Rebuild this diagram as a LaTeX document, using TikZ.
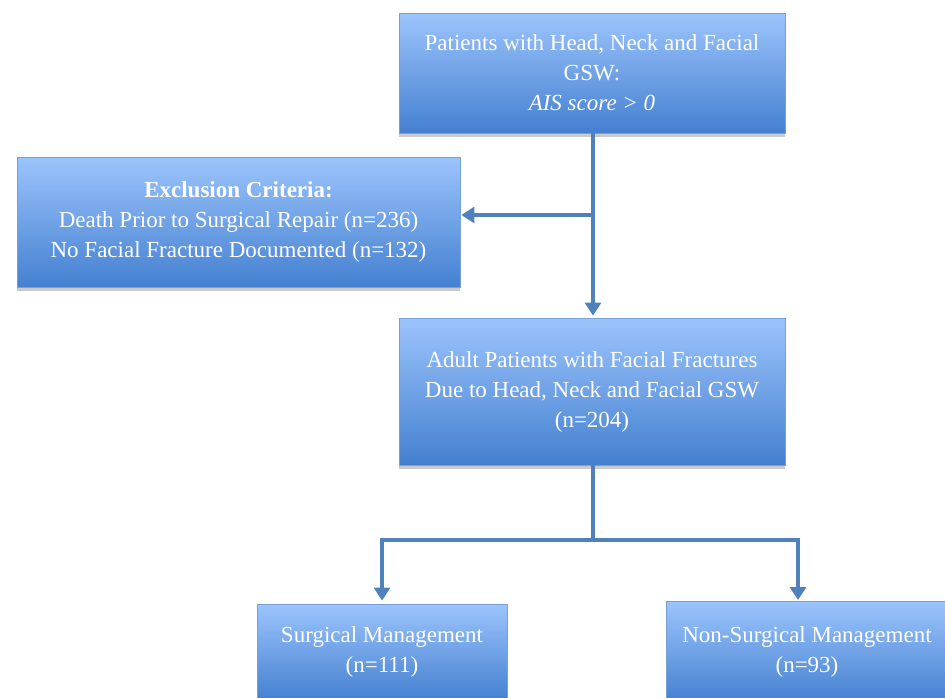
\documentclass[tikz,border=0pt]{standalone}
\usepackage{fontspec}
\setmainfont{Liberation Serif}
\usetikzlibrary{arrows.meta,shadows}
\definecolor{linec}{RGB}{79,129,189}
\definecolor{boxtop}{RGB}{156,196,252}
\definecolor{boxbot}{RGB}{68,128,208}
\definecolor{boxedge}{RGB}{120,160,215}
\tikzset{
  flowbox/.style={draw=boxedge, line width=0.8pt, top color=boxtop, bottom color=boxbot,
    text=white, align=center, inner sep=0pt,
    font=\fontsize{23}{30}\selectfont,
    drop shadow={shadow xshift=0pt, shadow yshift=-4pt, opacity=0.35, fill=black!60}},
  conn/.style={draw=linec, line width=4.5pt},
  arr/.style={conn, -{Triangle[length=13pt,width=16pt]}}
}
\begin{document}
\begin{tikzpicture}[x=1pt,y=-1pt]
\useasboundingbox (0,0) rectangle (945,697);
\clip (0,0) rectangle (945,697);
\node[flowbox, minimum width=386, minimum height=120] (t) at (592,73)
  {Patients with Head, Neck and Facial\\GSW:\\\textit{AIS score > 0}};
\node[flowbox, minimum width=443, minimum height=130] (ex) at (238.5,222)
  {\textbf{Exclusion Criteria:}\\Death Prior to Surgical Repair (n=236)\\No Facial Fracture Documented (n=132)};
\node[flowbox, minimum width=386, minimum height=147] (m) at (592,391.5)
  {Adult Patients with Facial Fractures\\Due to Head, Neck and Facial GSW\\(n=204)};
\node[flowbox, minimum width=250, minimum height=96] (s) at (382,652)
  {Surgical Management\\(n=111)};
\node[flowbox, minimum width=282, minimum height=102] (n) at (807,652)
  {Non-Surgical Management\\(n=93)};
\coordinate (j1) at (593,215);
\coordinate (j2) at (593,540);
\coordinate (nt) at (798,601);
\draw[arr, shorten >=2pt] (t.south -| j1) -- (m.north -| j1);
\draw[arr, shorten >=1pt] (j1) -- (j1 -| ex.east);
\draw[conn] (m.south -| j2) -- ([yshift=2.25pt]j2);
\draw[arr, shorten >=3pt] (j2) -| (s.north);
\draw[arr, shorten >=1pt] (j2) -| (nt);
\end{tikzpicture}
\end{document}
